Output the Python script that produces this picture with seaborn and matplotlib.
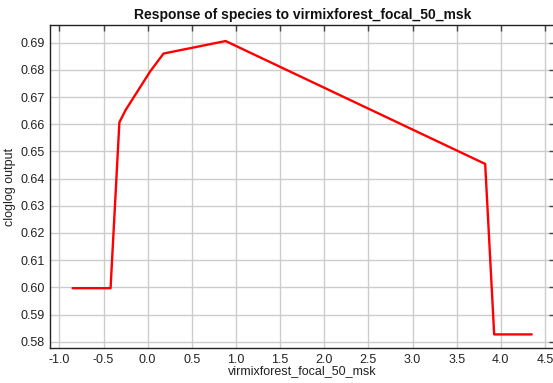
import matplotlib
matplotlib.use("Agg")
import matplotlib.pyplot as plt
import seaborn as sns
import pandas as pd

x_vals = [-0.85, -0.42, -0.32, -0.25, 0.03, 0.18, 0.883, 3.823, 3.925, 4.35]
y_vals = [0.5997, 0.5997, 0.6607, 0.6652, 0.6795, 0.6860, 0.6906, 0.6454, 0.5827, 0.5827]
x_ticks = [-1.0, -0.5, 0.0, 0.5, 1.0, 1.5, 2.0, 2.5, 3.0, 3.5, 4.0, 4.5]
y_ticks = [0.58, 0.59, 0.60, 0.61, 0.62, 0.63, 0.64, 0.65, 0.66, 0.67, 0.68, 0.69]

sns.set_theme(style="white")
plt.rcParams['font.family'] = ['Liberation Sans', 'DejaVu Sans']

df = pd.DataFrame({"x": x_vals, "y": y_vals})

fig = plt.figure(figsize=(5.53, 3.83), dpi=100)
ax = fig.add_axes([50/553, 1 - 348/383, 1.003 - 50/553, (348 - 25)/383])
sns.lineplot(data=df, x="x", y="y", ax=ax, color="#ff0000", linewidth=1.7, sort=False)

ax.set_xticks(x_ticks)
ax.set_yticks(y_ticks)
ax.set_xticklabels([f"{t:.1f}" for t in x_ticks])
ax.set_yticklabels([f"{t:.2f}" for t in y_ticks])
ax.set_xlim(-1.106, 4.61)
ax.set_ylim(0.5777, 0.6965)
ax.grid(True, color="#cccccc", linewidth=1)
ax.set_axisbelow(True)
for s in ax.spines.values():
    s.set_color("#222222")
    s.set_linewidth(1)
ax.tick_params(direction="in", length=4, width=1, top=True, right=True,
               labelsize=9, color="#444444", labelcolor="#222222", pad=4)
ax.set_xlabel("virmixforest_focal_50_msk", fontsize=9, labelpad=0, color="#222222")
ax.set_ylabel("cloglog output", fontsize=9, labelpad=3, color="#222222")
ax.set_title("Response of species to virmixforest_focal_50_msk", fontsize=10,
             fontweight="bold", pad=4, color="#111111")

fig.savefig("out.png", dpi=100)
